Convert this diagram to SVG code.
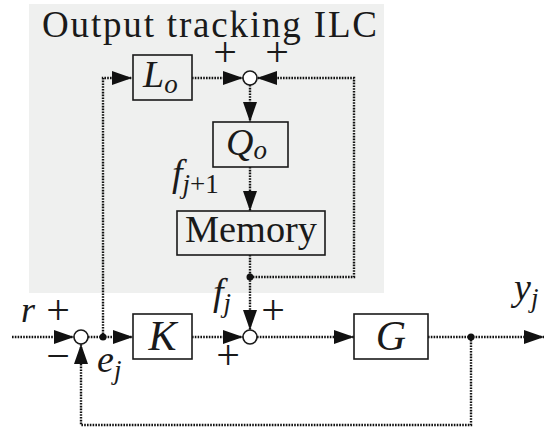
<svg xmlns="http://www.w3.org/2000/svg" width="544" height="431" viewBox="0 0 544 431">
<style>
.bg{fill:#eff0ef;}
.box{fill:none;stroke:#1a1a1a;stroke-width:1.6;}
.sum{fill:#fff;stroke:#1a1a1a;stroke-width:1.6;}
.dot{fill:#111;}
.w{fill:none;stroke:#111;stroke-width:2.4;stroke-dasharray:1.6 1.2;marker-end:url(#ah);}
</style>
<defs>
<marker id="ah" markerUnits="userSpaceOnUse" markerWidth="20" markerHeight="14" refX="20" refY="7" orient="auto" viewBox="0 0 20 14">
<path d="M0,0 L20,7 L0,14 Z" fill="#111" stroke="none"/>
</marker>
</defs>
<rect class="bg" x="29" y="4" width="355" height="289"/>
<text x="42" y="37" style="font-family:'Liberation Serif',serif;font-size:37px;fill:#1a1a1a" textLength="335" lengthAdjust="spacing">Output tracking ILC</text>

<g id="connectors">
<path class="w" d="M12,337 H74"/>
<path class="w" d="M88,337 H133"/>
<path class="w" d="M103,337 V78 H132"/>
<path class="w" d="M192,78 H243"/>
<path class="w" d="M250,277 H354 V78 H257"/>
<path class="w" d="M250,85 V122"/>
<path class="w" d="M250,167 V211"/>
<path class="w" d="M250,255 V330"/>
<path class="w" d="M192,337 H243"/>
<path class="w" d="M257,337 H354"/>
<path class="w" d="M428,337 H544"/>
<path class="w" d="M471,337 V425 H81 V344"/>
<circle class="dot" cx="103" cy="337" r="3.5"/>
<circle class="dot" cx="250" cy="277" r="3.5"/>
<circle class="dot" cx="471" cy="337" r="3.5"/>
</g>

<g id="Lo">
<rect class="box" x="133" y="55" width="59" height="45"/>
<text x="143" y="87" style="font-family:'Liberation Serif',serif;font-style:italic;font-size:38px;fill:#1a1a1a">L<tspan style="font-size:27px" dy="6">o</tspan></text>
</g>
<g id="sumTop">
<circle class="sum" cx="250" cy="78" r="7"/>
<text x="225" y="66" style="font-family:'Liberation Serif',serif;font-size:42px;text-anchor:middle;fill:#1a1a1a">+</text>
<text x="277" y="66" style="font-family:'Liberation Serif',serif;font-size:42px;text-anchor:middle;fill:#1a1a1a">+</text>
</g>
<g id="Qo">
<rect class="box" x="213" y="122" width="75" height="45"/>
<text x="226" y="155" style="font-family:'Liberation Serif',serif;font-style:italic;font-size:38px;fill:#1a1a1a">Q<tspan style="font-size:27px" dy="4">o</tspan></text>
</g>
<g id="fj1label">
<text x="172" y="186" style="font-family:'Liberation Serif',serif;font-style:italic;font-size:38px;fill:#1a1a1a">f<tspan style="font-size:27px" dy="7">j</tspan><tspan style="font-style:normal;font-size:27px">+1</tspan></text>
</g>
<g id="Memory">
<rect class="box" x="177" y="211" width="148" height="44"/>
<text x="185" y="242" style="font-family:'Liberation Serif',serif;font-size:37px;fill:#1a1a1a" textLength="132" lengthAdjust="spacingAndGlyphs">Memory</text>
</g>
<g id="sum1">
<circle class="sum" cx="81" cy="337" r="7"/>
<text x="21" y="322" style="font-family:'Liberation Serif',serif;font-style:italic;font-size:36px;fill:#1a1a1a">r</text>
<text x="58" y="324" style="font-family:'Liberation Serif',serif;font-size:42px;text-anchor:middle;fill:#1a1a1a">+</text>
<text x="58" y="370" style="font-family:'Liberation Serif',serif;font-size:42px;text-anchor:middle;fill:#1a1a1a">−</text>
<text x="97" y="372" style="font-family:'Liberation Serif',serif;font-style:italic;font-size:38px;fill:#1a1a1a">e<tspan style="font-size:27px" dy="7">j</tspan></text>
</g>
<g id="K">
<rect class="box" x="133" y="314" width="59" height="45"/>
<text x="162.5" y="350" style="font-family:'Liberation Serif',serif;font-style:italic;font-size:42px;text-anchor:middle;fill:#1a1a1a">K</text>
</g>
<g id="sum2">
<circle class="sum" cx="250" cy="337" r="7"/>
<text x="213" y="305" style="font-family:'Liberation Serif',serif;font-style:italic;font-size:38px;fill:#1a1a1a">f<tspan style="font-size:27px" dy="7">j</tspan></text>
<text x="273" y="324" style="font-family:'Liberation Serif',serif;font-size:42px;text-anchor:middle;fill:#1a1a1a">+</text>
<text x="228" y="369" style="font-family:'Liberation Serif',serif;font-size:42px;text-anchor:middle;fill:#1a1a1a">+</text>
</g>
<g id="G">
<rect class="box" x="354" y="314" width="74" height="45"/>
<text x="391" y="350" style="font-family:'Liberation Serif',serif;font-style:italic;font-size:42px;text-anchor:middle;fill:#1a1a1a">G</text>
</g>
<g id="yj">
<text x="514" y="300" style="font-family:'Liberation Serif',serif;font-style:italic;font-size:38px;fill:#1a1a1a">y<tspan style="font-size:27px" dy="7">j</tspan></text>
</g>
</svg>
